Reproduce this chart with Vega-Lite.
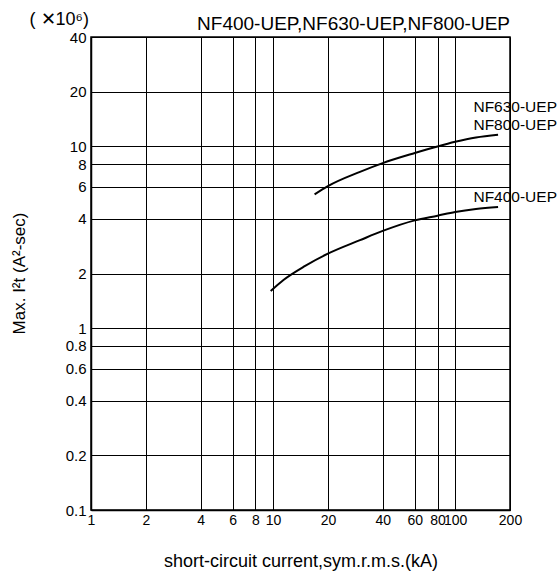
{
  "$schema": "https://vega.github.io/schema/vega-lite/v6.json",
  "autosize": {"type": "none"},
  "width": 419,
  "height": 473,
  "padding": {"left": 91, "top": 37, "right": 50, "bottom": 61},
  "background": "white",
  "config": {
    "font": "Liberation Sans",
    "view": {"stroke": "black", "strokeWidth": 1.5},
    "axis": {
      "domainColor": "black",
      "domainWidth": 1.5,
      "gridColor": "black",
      "gridOpacity": 1,
      "gridWidth": 1,
      "labelColor": "black",
      "labelFont": "Liberation Sans",
      "labelFontSize": 14,
      "titleColor": "black",
      "titleFont": "Liberation Sans",
      "titleFontSize": 17,
      "titleFontWeight": "normal",
      "tickSize": 0
    }
  },
  "title": {
    "text": "NF400-UEP,NF630-UEP,NF800-UEP",
    "anchor": "end",
    "frame": "group",
    "fontSize": 19,
    "fontWeight": "normal",
    "font": "Liberation Sans",
    "color": "black",
    "offset": 2,
    "dy": 25
  },
  "datasets": {
    "curves": [
      {"current": 9.7, "i2t": 1.6, "series": "NF400-UEP"},
      {"current": 11.4, "i2t": 1.84, "series": "NF400-UEP"},
      {"current": 15, "i2t": 2.2, "series": "NF400-UEP"},
      {"current": 20, "i2t": 2.57, "series": "NF400-UEP"},
      {"current": 30, "i2t": 3.05, "series": "NF400-UEP"},
      {"current": 40, "i2t": 3.43, "series": "NF400-UEP"},
      {"current": 60, "i2t": 3.92, "series": "NF400-UEP"},
      {"current": 80, "i2t": 4.16, "series": "NF400-UEP"},
      {"current": 100, "i2t": 4.36, "series": "NF400-UEP"},
      {"current": 130, "i2t": 4.53, "series": "NF400-UEP"},
      {"current": 172, "i2t": 4.64, "series": "NF400-UEP"},
      {"current": 16.9, "i2t": 5.45, "series": "NF630-UEP"},
      {"current": 20, "i2t": 6.05, "series": "NF630-UEP"},
      {"current": 30, "i2t": 7.25, "series": "NF630-UEP"},
      {"current": 40, "i2t": 8.1, "series": "NF630-UEP"},
      {"current": 60, "i2t": 9.2, "series": "NF630-UEP"},
      {"current": 80, "i2t": 10.0, "series": "NF630-UEP"},
      {"current": 100, "i2t": 10.6, "series": "NF630-UEP"},
      {"current": 130, "i2t": 11.2, "series": "NF630-UEP"},
      {"current": 172, "i2t": 11.6, "series": "NF630-UEP"}
    ],
    "labels": [
      {"current": 200, "i2t": 16.4, "text": "NF630-UEP"},
      {"current": 200, "i2t": 13.2, "text": "NF800-UEP"},
      {"current": 200, "i2t": 5.3, "text": "NF400-UEP"}
    ],
    "unit": [
      {"current": 1, "i2t": 40, "text": "( ✕10⁶)"}
    ]
  },
  "encoding": {
    "x": {
      "field": "current",
      "type": "quantitative",
      "scale": {"type": "log", "domain": [1, 200], "nice": false, "zero": false},
      "axis": {
        "values": [1, 2, 4, 6, 8, 10, 20, 40, 60, 80, 100, 200],
        "format": "~g",
        "labelPadding": 3,
        "labelFlush": false,
        "labelOverlap": false,
        "title": "short-circuit current,sym.r.m.s.(kA)",
        "titleFontSize": 18,
        "titleX": 209.5,
        "titleY": 51,
        "titleBaseline": "middle",
        "titleAlign": "center"
      }
    },
    "y": {
      "field": "i2t",
      "type": "quantitative",
      "scale": {"type": "log", "domain": [0.1, 40], "nice": false, "zero": false},
      "axis": {
        "values": [0.1, 0.2, 0.4, 0.6, 0.8, 1, 2, 4, 6, 8, 10, 20, 40],
        "format": "~g",
        "labelPadding": 5,
        "labelFlush": false,
        "labelOverlap": false,
        "labelFontSize": 15,
        "title": "Max. I²t (A²-sec)",
        "titleX": -72,
        "titleY": 236,
        "titleAngle": -90,
        "titleBaseline": "middle",
        "titleAlign": "center"
      }
    }
  },
  "layer": [
    {
      "data": {"name": "curves"},
      "mark": {"type": "line", "color": "black", "strokeWidth": 2, "interpolate": "monotone", "clip": true},
      "encoding": {"detail": {"field": "series"}}
    },
    {
      "data": {"name": "labels"},
      "mark": {"type": "text", "align": "right", "baseline": "middle", "dx": 47, "fontSize": 15.5, "font": "Liberation Sans", "color": "black"},
      "encoding": {"text": {"field": "text"}}
    },
    {
      "data": {"name": "unit"},
      "mark": {"type": "text", "align": "right", "baseline": "middle", "dx": -2, "dy": -17, "fontSize": 18, "font": "Liberation Sans", "color": "black"},
      "encoding": {"text": {"field": "text"}}
    }
  ]
}
